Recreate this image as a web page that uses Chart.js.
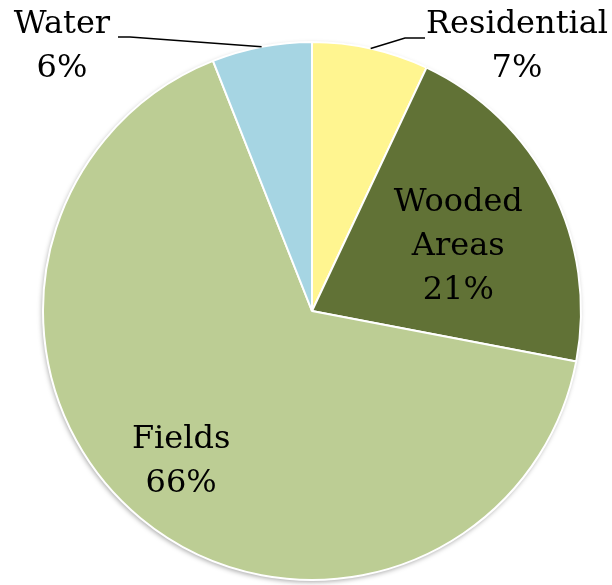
<!DOCTYPE html>
<html>
<head>
<meta charset="utf-8">
<script src="https://cdn.jsdelivr.net/npm/chart.js@4/dist/chart.umd.min.js"></script>
<style>
  html, body { margin: 0; padding: 0; background: #fff; }
  #wrap { width: 612px; height: 585px; position: relative; }
</style>
</head>
<body>
<div id="wrap"><canvas id="landChart"></canvas></div>
<script>
const categories = ["Residential", "Wooded Areas", "Fields", "Water"];
const shares = [7, 21, 66, 6];
const sliceColors = ["#FFF590", "#617236", "#BCCD94", "#A6D5E3"];

const FONT = '32px "DejaVu Serif", serif';

// label placement per slice: inside labels use a fraction of the radius,
// outside labels get a leader line to a text anchor
const labelSpots = [
  { outside: true, text: ["Residential", "7%"], anchor: [517, 25], elbow: [405, 38], end: [425, 38] },
  { outside: false, text: ["Wooded", "Areas", "21%"], dist: 0.6, shiftDeg: 2, dy: 4 },
  { outside: false, text: ["Fields", "66%"], dist: 0.74, shiftDeg: 1.5, dy: 1 },
  { outside: true, text: ["Water", "6%"], anchor: [62, 25], elbow: [130, 37], end: [118, 37] },
];

const pieShadow = {
  id: "pieShadow",
  beforeDatasetsDraw(chart) {
    const arc = chart.getDatasetMeta(0).data[0];
    const ctx = chart.ctx;
    ctx.save();
    ctx.shadowColor = "rgba(0,0,0,0.35)";
    ctx.shadowBlur = 5;
    ctx.shadowOffsetX = -1;
    ctx.shadowOffsetY = 2;
    ctx.fillStyle = "#fff";
    ctx.beginPath();
    ctx.arc(arc.x, arc.y, arc.outerRadius, 0, Math.PI * 2);
    ctx.fill();
    ctx.restore();
  },
};

const sliceLabels = {
  id: "sliceLabels",
  afterDatasetsDraw(chart) {
    const ctx = chart.ctx;
    const meta = chart.getDatasetMeta(0);
    const lineH = 44;
    ctx.save();
    ctx.font = FONT;
    ctx.fillStyle = "#000";
    ctx.textAlign = "center";
    ctx.textBaseline = "middle";
    meta.data.forEach((arc, i) => {
      const spot = labelSpots[i];
      const mid = (arc.startAngle + arc.endAngle) / 2;
      if (spot.outside) {
        const sx = arc.x + Math.cos(mid) * arc.outerRadius;
        const sy = arc.y + Math.sin(mid) * arc.outerRadius;
        ctx.strokeStyle = "#000";
        ctx.lineWidth = 1.5;
        ctx.beginPath();
        ctx.moveTo(sx, sy);
        ctx.lineTo(spot.elbow[0], spot.elbow[1]);
        ctx.lineTo(spot.end[0], spot.end[1]);
        ctx.stroke();
        spot.text.forEach((t, k) => {
          ctx.fillText(t, spot.anchor[0], spot.anchor[1] + k * lineH);
        });
      } else {
        const a = mid + (spot.shiftDeg * Math.PI) / 180;
        const cx = arc.x + Math.cos(a) * arc.outerRadius * spot.dist;
        const cy = arc.y + Math.sin(a) * arc.outerRadius * spot.dist + spot.dy;
        const top = cy - ((spot.text.length - 1) * lineH) / 2;
        spot.text.forEach((t, k) => {
          ctx.fillText(t, cx, top + k * lineH);
        });
      }
    });
    ctx.restore();
  },
};

new Chart(document.getElementById("landChart"), {
  type: "pie",
  data: {
    labels: categories,
    datasets: [
      {
        data: shares,
        backgroundColor: sliceColors,
        borderColor: "#fff",
        borderWidth: 2,
      },
    ],
  },
  options: {
    responsive: true,
    maintainAspectRatio: false,
    animation: false,
    layout: { padding: { left: 42, right: 30, top: 41, bottom: 4 } },
    plugins: {
      legend: { display: false },
      tooltip: { enabled: false },
    },
  },
  plugins: [pieShadow, sliceLabels],
});
</script>
</body>
</html>
